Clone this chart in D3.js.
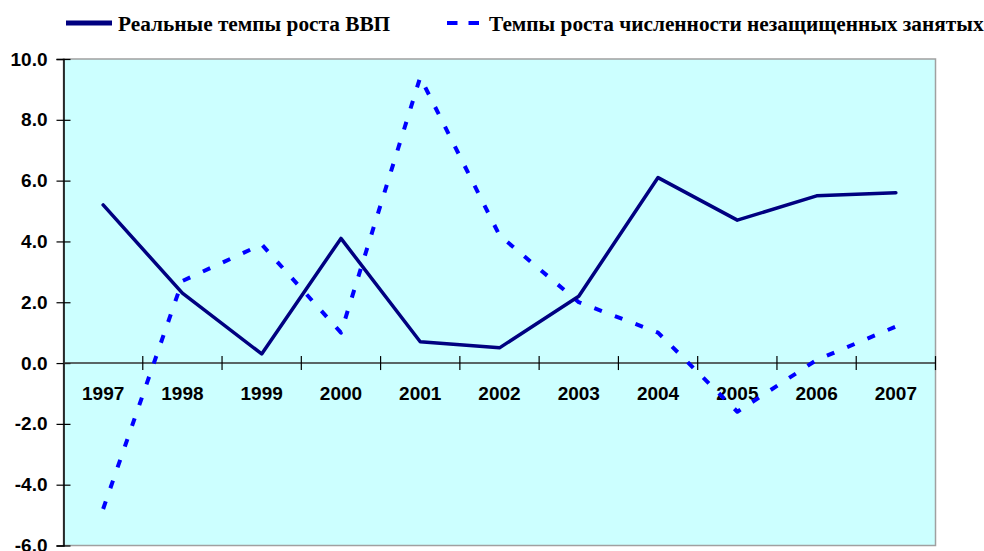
<!DOCTYPE html>
<html>
<head>
<meta charset="utf-8">
<script src="https://cdnjs.cloudflare.com/ajax/libs/d3/7.8.5/d3.min.js"></script>
<style>
  body { margin: 0; background: #ffffff; }
</style>
</head>
<body>
<div id="chart"></div>
<script>

///////////////////////////////////////////////
// Data ///////////////////////////////////////
///////////////////////////////////////////////

var years = ["1997", "1998", "1999", "2000", "2001", "2002", "2003", "2004", "2005", "2006", "2007"];
var gdpGrowth = [5.2, 2.3, 0.3, 4.1, 0.7, 0.5, 2.2, 6.1, 4.7, 5.5, 5.6];
var informalGrowth = [-4.8, 2.7, 3.9, 1.0, 9.4, 4.2, 2.0, 1.0, -1.6, 0.1, 1.2];
var yTicks = [-6, -4, -2, 0, 2, 4, 6, 8, 10];
var seriesNames = ["Реальные темпы роста ВВП", "Темпы роста численности незащищенных занятых"];

///////////////////////////////////////////////
// Graph parameters ///////////////////////////
///////////////////////////////////////////////

var width = 984, height = 551;
var plot = { left: 63.5, right: 935.5, top: 59, bottom: 545.5 };
var color = ["#000080", "#0000ff"];
var axisFont = "bold 19px 'Liberation Sans', Arial, sans-serif";
var legendFont = "bold 21.3px 'Liberation Serif', 'Times New Roman', serif";

var formatNumber = d3.format(".1f"),
    format = function(d) { return formatNumber(d).replace("\u2212", "-"); };

var svg = d3.select("#chart").append("svg")
    .attr("width", width)
    .attr("height", height);

///////////////////////////////////////////////
// Scales /////////////////////////////////////
///////////////////////////////////////////////

var x = d3.scaleBand()
    .domain(years)
    .range([plot.left, plot.right])
    .padding(0);

var y = d3.scaleLinear()
    .domain([-6, 10])
    .range([plot.bottom, plot.top]);

// plot background
svg.append("rect")
    .attr("x", plot.left)
    .attr("y", plot.top)
    .attr("width", plot.right - plot.left)
    .attr("height", plot.bottom - plot.top)
    .style("fill", "#ccffff")
    .style("stroke", "#a0a0a0")
    .style("stroke-width", 1.5);

///////////////////////////////////////////////
// Axes ///////////////////////////////////////
///////////////////////////////////////////////

var yAxis = d3.axisLeft(y)
    .tickValues(yTicks)
    .tickSize(7)
    .tickPadding(10)
    .tickFormat(format);

var gy = svg.append("g")
    .attr("class", "axisY")
    .attr("transform", "translate(" + plot.left + ",0)")
    .call(yAxis);

gy.select(".domain").attr("stroke", "#000").attr("stroke-width", 1.5);
gy.selectAll(".tick line")
    .attr("x1", -7).attr("x2", 7)
    .attr("stroke", "#000").attr("stroke-width", 1.2);
gy.selectAll(".tick text")
    .attr("x", -16)
    .style("font", axisFont)
    .style("fill", "#000");

// x axis on zero line, ticks between categories
var xAxis = d3.axisBottom(x)
    .tickSize(0)
    .tickPadding(0);

var gx = svg.append("g")
    .attr("class", "axisX")
    .attr("transform", "translate(0," + y(0) + ")")
    .call(xAxis);

gx.select(".domain").remove();
gx.append("line")
    .attr("x1", plot.left)
    .attr("x2", plot.right)
    .attr("stroke", "#333")
    .attr("stroke-width", 1.5);
gx.selectAll(".boundary")
    .data(years.slice(1).concat(["end"]))
    .enter().append("line")
    .attr("class", "boundary")
    .attr("x1", function(d) { return d === "end" ? plot.right : x(d); })
    .attr("x2", function(d) { return d === "end" ? plot.right : x(d); })
    .attr("y1", -7)
    .attr("y2", 7)
    .attr("stroke", "#000")
    .attr("stroke-width", 1.2);
gx.selectAll(".tick text")
    .attr("y", 37)
    .attr("dy", 0)
    .style("font", axisFont)
    .style("fill", "#000");

///////////////////////////////////////////////
// Lines //////////////////////////////////////
///////////////////////////////////////////////

var line = d3.line()
    .x(function(d, i) { return x(years[i]) + x.bandwidth() / 2; })
    .y(function(d) { return y(d); });

svg.append("path")
    .datum(informalGrowth)
    .attr("fill", "none")
    .attr("stroke", color[1])
    .attr("stroke-width", 4)
    .attr("stroke-dasharray", "8,14")
    .attr("stroke-linejoin", "round")
    .attr("d", line);

svg.append("path")
    .datum(gdpGrowth)
    .attr("fill", "none")
    .attr("stroke", color[0])
    .attr("stroke-width", 3.5)
    .attr("stroke-linejoin", "round")
    .attr("stroke-linecap", "round")
    .attr("d", line);

///////////////////////////////////////////////
// Legend /////////////////////////////////////
///////////////////////////////////////////////

var legendItems = [
  { x1: 66, x2: 112, tx: 118, dash: null, w: 5 },
  { x1: 447, x2: 479, tx: 489, dash: "10.5,11", w: 4 }
];

var legend = svg.append("g")
    .attr("class", "legend")
    .selectAll("g")
    .data(legendItems)
    .enter().append("g");

legend.append("line")
    .attr("x1", function(d) { return d.x1; })
    .attr("x2", function(d) { return d.x2; })
    .attr("y1", 23)
    .attr("y2", 23)
    .attr("stroke", function(d, i) { return color[i]; })
    .attr("stroke-width", function(d) { return d.w; })
    .attr("stroke-dasharray", function(d) { return d.dash; });

legend.append("text")
    .attr("x", function(d) { return d.tx; })
    .attr("y", 31)
    .style("font", legendFont)
    .style("fill", "#000")
    .text(function(d, i) { return seriesNames[i]; });

</script>
</body>
</html>
